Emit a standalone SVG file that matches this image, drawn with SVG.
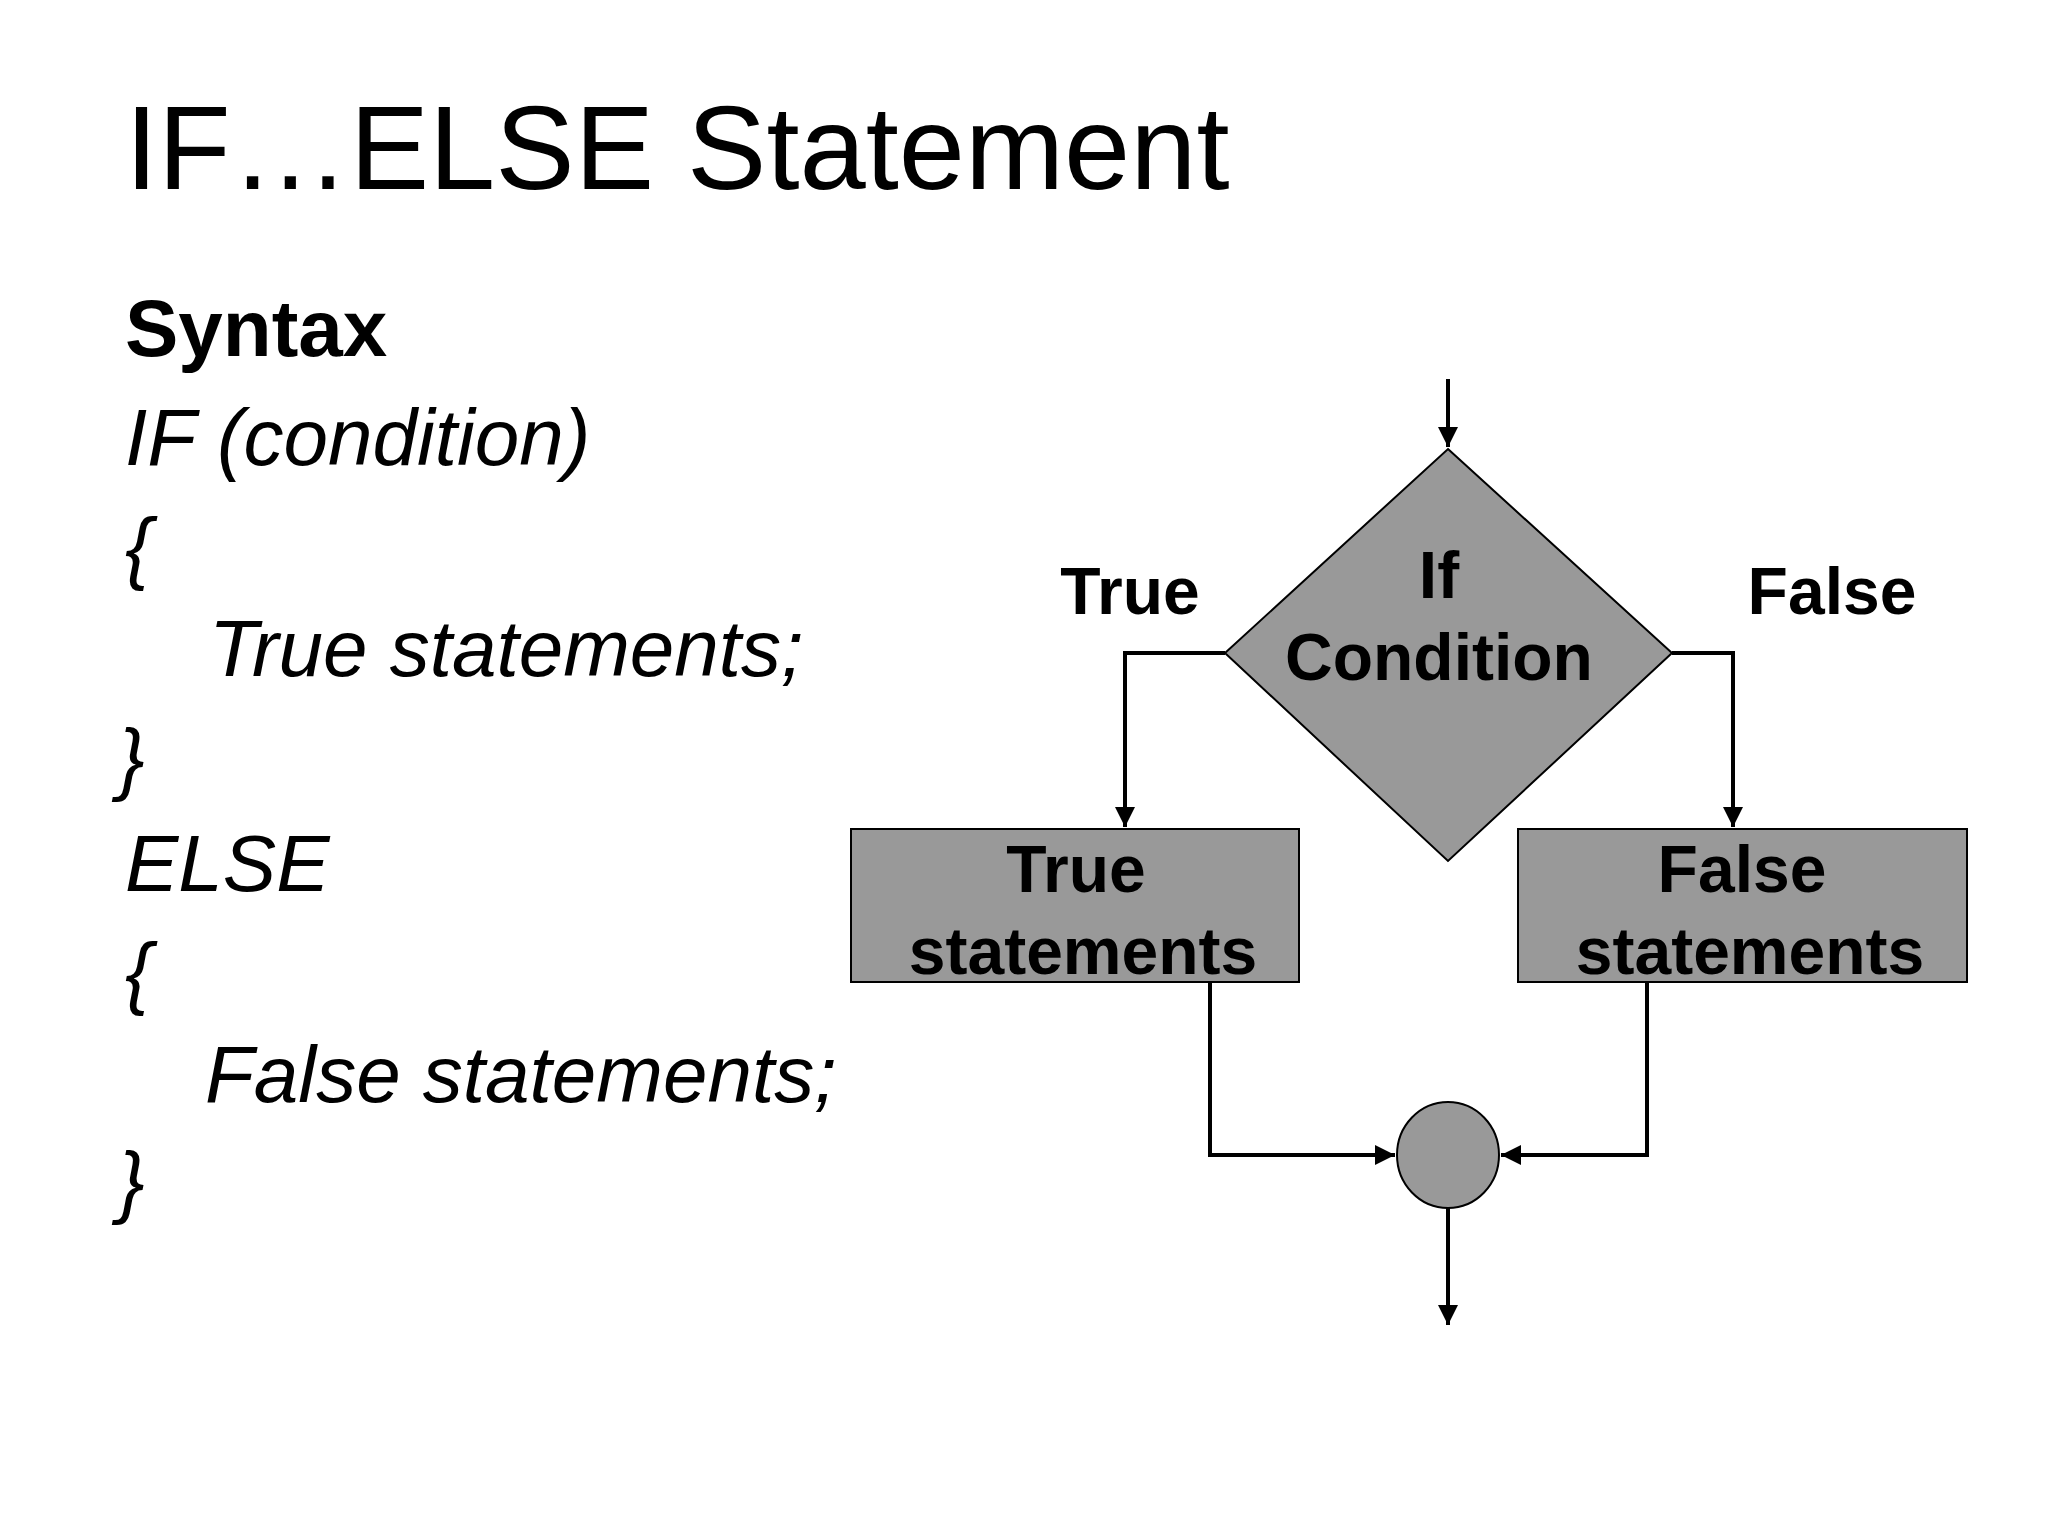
<svg xmlns="http://www.w3.org/2000/svg" width="2048" height="1536" viewBox="0 0 2048 1536">
<style>
.t{font-family:"Liberation Sans",Arial,sans-serif;fill:#000}
.code{font-size:80px;font-style:italic}
.lb{font-size:66px;font-weight:bold;text-anchor:middle}
.shape{fill:#999;stroke:#000;stroke-width:2}
.ln{fill:none;stroke:#000;stroke-width:4}
</style>
<defs>
<marker id="ah" viewBox="0 0 10 10" refX="10" refY="5" markerWidth="5" markerHeight="5" orient="auto" markerUnits="strokeWidth"><path d="M0,0 L10,5 L0,10 z" fill="#000"/></marker>
</defs>
<rect width="2048" height="1536" fill="#fff"/>
<text class="t" x="125" y="189" font-size="119">IF…ELSE Statement</text>
<text class="t" x="125" y="356" font-size="80" font-weight="bold">Syntax</text>
<text class="t code" x="125" y="465">IF (condition)</text>
<text class="t code" x="125" y="574">{</text>
<text class="t code" x="209" y="676">True statements;</text>
<text class="t code" x="118" y="785">}</text>
<text class="t code" x="125" y="891">ELSE</text>
<text class="t code" x="125" y="999">{</text>
<text class="t code" x="205" y="1102">False statements;</text>
<text class="t code" x="118" y="1208">}</text>
<g id="connectors">
<path class="ln" d="M1448,379 L1448,447" marker-end="url(#ah)"/>
<path class="ln" d="M1225,653 L1125,653 L1125,827" marker-end="url(#ah)"/>
<path class="ln" d="M1672,653 L1733,653 L1733,827" marker-end="url(#ah)"/>
<path class="ln" d="M1210,982 L1210,1155 L1395,1155" marker-end="url(#ah)"/>
<path class="ln" d="M1647,982 L1647,1155 L1501,1155" marker-end="url(#ah)"/>
<path class="ln" d="M1448,1208 L1448,1325" marker-end="url(#ah)"/>
<text class="t lb" x="1130" y="614">True</text>
<text class="t lb" x="1832" y="614">False</text>
</g>
<g id="cond">
<polygon class="shape" points="1448,449 1672,653 1448,861 1225,653"/>
<text class="t lb" x="1439" y="598">If</text>
<text class="t lb" x="1439" y="680">Condition</text>
</g>
<g id="true">
<rect class="shape" x="851" y="829" width="448" height="153"/>
<text class="t lb" x="1076" y="892">True</text>
<text class="t lb" x="1083" y="974">statements</text>
</g>
<g id="false">
<rect class="shape" x="1518" y="829" width="449" height="153"/>
<text class="t lb" x="1742" y="892">False</text>
<text class="t lb" x="1750" y="974">statements</text>
</g>
<g id="join">
<ellipse class="shape" cx="1448" cy="1155" rx="51" ry="53"/>
</g>
</svg>
